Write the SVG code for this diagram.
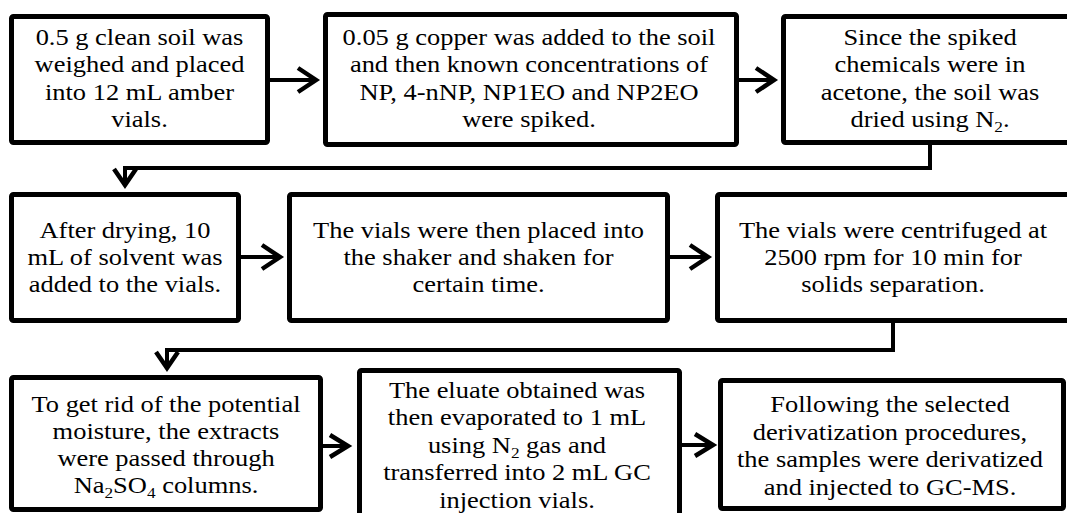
<svg xmlns="http://www.w3.org/2000/svg" width="1067" height="513" viewBox="0 0 1067 513">
  <style>
    .box { fill: #ffffff; stroke: #000000; stroke-width: 5; }
    .lbl { font-family: 'Liberation Serif', 'DejaVu Serif', serif; font-size: 23px; fill: #000000; text-anchor: middle; }
    .sub { font-size: 15px; }
    .wire { fill: none; stroke: #000000; stroke-width: 4; }
    .head { fill: none; stroke: #000000; stroke-width: 4.5; stroke-linejoin: miter; }
  </style>
  <rect x="0" y="0" width="1067" height="513" fill="#ffffff"/>

  <!-- row 1 -->
  <g id="step1">
    <rect class="box" x="11.5" y="16.5" width="256" height="126" rx="2"/>
    <g transform="matrix(1.15 0 0 1 139.5 0)">
      <text class="lbl" x="0" y="45">0.5 g clean soil was</text>
      <text class="lbl" x="0" y="72.5">weighed and placed</text>
      <text class="lbl" x="0" y="100">into 12 mL amber</text>
      <text class="lbl" x="0" y="127.5">vials.</text>
    </g>
  </g>
  <g id="step2">
    <rect class="box" x="325.5" y="14.5" width="411" height="130" rx="2"/>
    <g transform="matrix(1.15 0 0 1 529 0)">
      <text class="lbl" x="0" y="45">0.05 g copper was added to the soil</text>
      <text class="lbl" x="0" y="72.5">and then known concentrations of</text>
      <text class="lbl" x="0" y="100">NP, 4-nNP, NP1EO and NP2EO</text>
      <text class="lbl" x="0" y="127.5">were spiked.</text>
    </g>
  </g>
  <g id="step3">
    <rect class="box" x="783.5" y="16.5" width="300" height="126" rx="2"/>
    <g transform="matrix(1.15 0 0 1 930 0)">
      <text class="lbl" x="0" y="45">Since the spiked</text>
      <text class="lbl" x="0" y="72.5">chemicals were in</text>
      <text class="lbl" x="0" y="100">acetone, the soil was</text>
      <text class="lbl" x="0" y="127.5">dried using N<tspan class="sub" dy="5">2</tspan><tspan dy="-5">.</tspan></text>
    </g>
  </g>

  <!-- row 2 -->
  <g id="step4">
    <rect class="box" x="11.5" y="194.5" width="227" height="126" rx="2"/>
    <g transform="matrix(1.15 0 0 1 125 0)">
      <text class="lbl" x="0" y="238">After drying, 10</text>
      <text class="lbl" x="0" y="265">mL of solvent was</text>
      <text class="lbl" x="0" y="292">added to the vials.</text>
    </g>
  </g>
  <g id="step5">
    <rect class="box" x="289.5" y="194.5" width="378" height="126" rx="2"/>
    <g transform="matrix(1.15 0 0 1 478.5 0)">
      <text class="lbl" x="0" y="238">The vials were then placed into</text>
      <text class="lbl" x="0" y="265">the shaker and shaken for</text>
      <text class="lbl" x="0" y="292">certain time.</text>
    </g>
  </g>
  <g id="step6">
    <rect class="box" x="717.5" y="194.5" width="360" height="126" rx="2"/>
    <g transform="matrix(1.15 0 0 1 893 0)">
      <text class="lbl" x="0" y="238">The vials were centrifuged at</text>
      <text class="lbl" x="0" y="265">2500 rpm for 10 min for</text>
      <text class="lbl" x="0" y="292">solids separation.</text>
    </g>
  </g>

  <!-- row 3 -->
  <g id="step7">
    <rect class="box" x="11.5" y="377.5" width="309" height="132" rx="2"/>
    <g transform="matrix(1.15 0 0 1 166 0)">
      <text class="lbl" x="0" y="412">To get rid of the potential</text>
      <text class="lbl" x="0" y="439">moisture, the extracts</text>
      <text class="lbl" x="0" y="466">were passed through</text>
      <text class="lbl" x="0" y="493">Na<tspan class="sub" dy="5">2</tspan><tspan dy="-5">SO</tspan><tspan class="sub" dy="5">4</tspan><tspan dy="-5"> columns.</tspan></text>
    </g>
  </g>
  <g id="step8">
    <rect class="box" x="359.5" y="370.5" width="320" height="160" rx="2"/>
    <g transform="matrix(1.15 0 0 1 517 0)">
      <text class="lbl" x="0" y="398">The eluate obtained was</text>
      <text class="lbl" x="0" y="425.5">then evaporated to 1 mL</text>
      <text class="lbl" x="0" y="453">using N<tspan class="sub" dy="5">2</tspan><tspan dy="-5"> gas and</tspan></text>
      <text class="lbl" x="0" y="480.5">transferred into 2 mL GC</text>
      <text class="lbl" x="0" y="508">injection vials.</text>
    </g>
  </g>
  <g id="step9">
    <rect class="box" x="720.5" y="380.5" width="343" height="128" rx="2"/>
    <g transform="matrix(1.15 0 0 1 890 0)">
      <text class="lbl" x="0" y="412">Following the selected</text>
      <text class="lbl" x="0" y="440">derivatization procedures,</text>
      <text class="lbl" x="0" y="467.5">the samples were derivatized</text>
      <text class="lbl" x="0" y="495">and injected to GC-MS.</text>
    </g>
  </g>

  <!-- connectors -->
  <g id="connectors">
    <!-- step1 -> step2 -->
    <path class="wire" d="M270 80 H315"/>
    <path class="head" d="M298 68 L316 80 L298 92"/>
    <!-- step2 -> step3 -->
    <path class="wire" d="M739 80 H772"/>
    <path class="head" d="M756 68 L774 80 L756 92"/>
    <!-- step3 -> step4 -->
    <path class="wire" d="M930 145 V168 H125 V183"/>
    <path class="head" d="M114 169 L125 185 L136 169"/>
    <!-- step4 -> step5 -->
    <path class="wire" d="M241 257 H278"/>
    <path class="head" d="M262 245 L280 257 L262 269"/>
    <!-- step5 -> step6 -->
    <path class="wire" d="M670 257 H706"/>
    <path class="head" d="M690 245 L708 257 L690 269"/>
    <!-- step6 -> step7 -->
    <path class="wire" d="M893 323 V350 H167 V366"/>
    <path class="head" d="M156 352 L167 368 L178 352"/>
    <!-- step7 -> step8 -->
    <path class="wire" d="M323 446 H346"/>
    <path class="head" d="M330 435 L348 446 L330 457"/>
    <!-- step8 -> step9 -->
    <path class="wire" d="M682 445 H711"/>
    <path class="head" d="M695 434 L713 445 L695 456"/>
  </g>
</svg>
